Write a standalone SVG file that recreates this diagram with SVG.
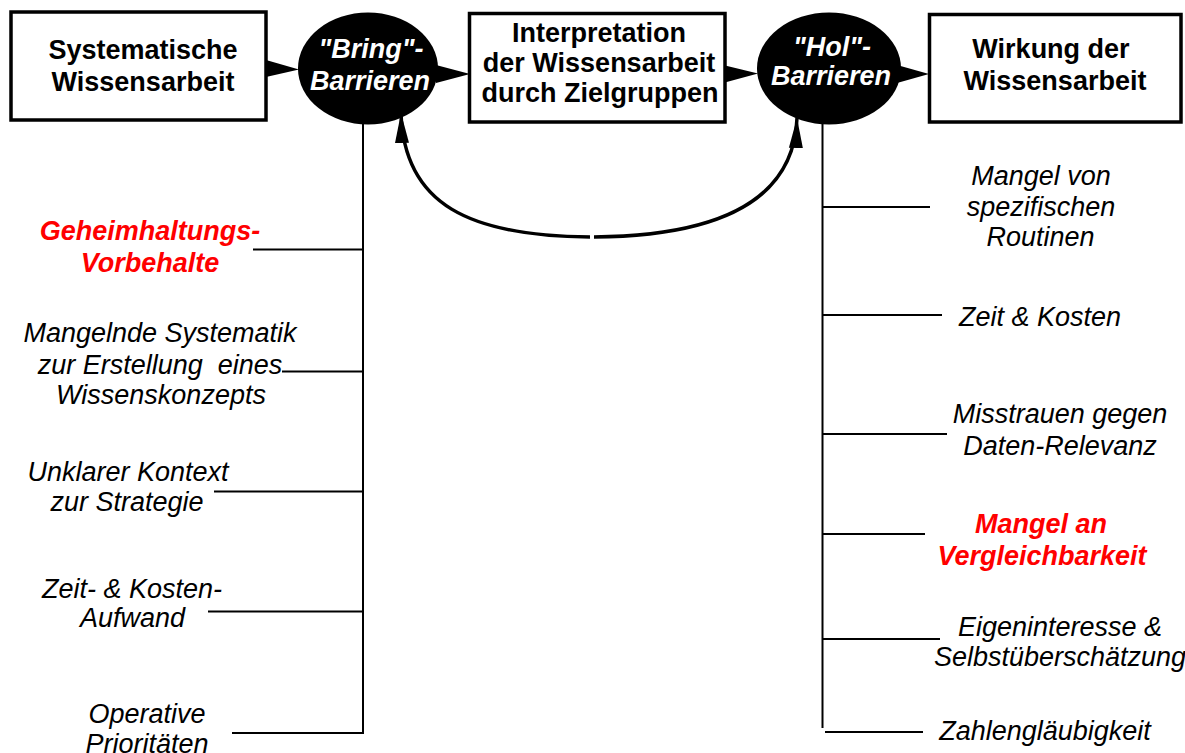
<svg xmlns="http://www.w3.org/2000/svg" width="1185" height="753" viewBox="0 0 1185 753">
<style>
.box{fill:#fff;stroke:#000;stroke-width:3.5}
.oval{fill:#000}
.bt{font-family:"Liberation Sans",Arial,sans-serif;font-weight:bold;font-size:27px;fill:#000;text-anchor:middle}
.ot{font-family:"Liberation Sans",Arial,sans-serif;font-weight:bold;font-style:italic;font-size:27px;fill:#fff;text-anchor:middle}
.lt{font-family:"Liberation Sans",Arial,sans-serif;font-style:italic;font-size:27px;fill:#000;text-anchor:middle}
.rt{font-family:"Liberation Sans",Arial,sans-serif;font-style:italic;font-weight:bold;font-size:27px;fill:#ff0000;text-anchor:middle}
.ln{stroke:#000;stroke-width:2;fill:none}
.cv{stroke:#000;stroke-width:3.5;fill:none;marker-end:url(#ah)}
.wd{fill:#000}
</style>
<defs>
<marker id="ah" markerUnits="userSpaceOnUse" markerWidth="32" markerHeight="18" refX="30" refY="9" orient="auto">
<path d="M0,2 L30,9 L0,16 z" fill="#000"/>
</marker>
</defs>
<g id="connectors">
<polygon class="wd" points="266,60 299,69.5 266,77"/>
<polygon class="wd" points="436,65 470,74 436,83"/>
<polygon class="wd" points="723,65 758,73.5 723,83"/>
<polygon class="wd" points="897,65 929,74 897,83"/>
<path class="cv" d="M590,237 C470,236 404,205 401,113"/>
<path class="cv" d="M594,237 C720,236 794,200 797,118"/>
<line class="ln" x1="363" y1="120" x2="363" y2="734"/>
<line class="ln" x1="253" y1="249.5" x2="364" y2="249.5"/>
<line class="ln" x1="282" y1="371.5" x2="364" y2="371.5"/>
<line class="ln" x1="214" y1="491.5" x2="364" y2="491.5"/>
<line class="ln" x1="208" y1="611.5" x2="364" y2="611.5"/>
<line class="ln" x1="232" y1="733" x2="364" y2="733"/>
<line class="ln" x1="822.5" y1="120" x2="822.5" y2="728"/>
<line class="ln" x1="822" y1="207" x2="930" y2="207"/>
<line class="ln" x1="822" y1="315" x2="942" y2="315"/>
<line class="ln" x1="822" y1="434" x2="947" y2="434"/>
<line class="ln" x1="822" y1="534" x2="925" y2="534"/>
<line class="ln" x1="822" y1="639" x2="940" y2="639"/>
<line class="ln" x1="825" y1="732" x2="923" y2="732"/>
</g>
<g id="n-systematische">
<rect class="box" x="11" y="12" width="255" height="108"/>
<text class="bt" x="143" y="59">Systematische</text>
<text class="bt" x="143" y="91">Wissensarbeit</text>
</g>
<g id="n-bring">
<ellipse class="oval" cx="368" cy="68.5" rx="70" ry="56"/>
<text class="ot" x="371" y="58">"Bring"-</text>
<text class="ot" x="370" y="90">Barrieren</text>
</g>
<g id="n-interpretation">
<rect class="box" x="469.5" y="13.5" width="255.5" height="108.5"/>
<text class="bt" x="599" y="42">Interpretation</text>
<text class="bt" x="599" y="72">der Wissensarbeit</text>
<text class="bt" x="600" y="101.5">durch Zielgruppen</text>
</g>
<g id="n-hol">
<ellipse class="oval" cx="829" cy="68.5" rx="72" ry="56"/>
<text class="ot" x="832" y="56">"Hol"-</text>
<text class="ot" x="831" y="85">Barrieren</text>
</g>
<g id="n-wirkung">
<rect class="box" x="929.5" y="14.5" width="251.5" height="107.5"/>
<text class="bt" x="1051" y="58">Wirkung der</text>
<text class="bt" x="1055" y="90">Wissensarbeit</text>
</g>
<g id="l-geheimhaltung">
<text class="rt" x="150" y="240">Geheimhaltungs-</text>
<text class="rt" x="150" y="272">Vorbehalte</text>
</g>
<g id="l-systematik">
<text class="lt" x="160" y="342">Mangelnde Systematik</text>
<text class="lt" x="160" y="374" xml:space="preserve">zur Erstellung  eines</text>
<text class="lt" x="161" y="404">Wissenskonzepts</text>
</g>
<g id="l-kontext">
<text class="lt" x="128" y="481">Unklarer Kontext</text>
<text class="lt" x="127" y="511">zur Strategie</text>
</g>
<g id="l-aufwand">
<text class="lt" x="132" y="598">Zeit- &amp; Kosten-</text>
<text class="lt" x="132.5" y="627">Aufwand</text>
</g>
<g id="l-prioritaeten">
<text class="lt" x="147" y="723">Operative</text>
<text class="lt" x="147" y="753">Prioritäten</text>
</g>
<g id="r-routinen">
<text class="lt" x="1041" y="185">Mangel von</text>
<text class="lt" x="1041" y="216">spezifischen</text>
<text class="lt" x="1040.5" y="246">Routinen</text>
</g>
<g id="r-zeit">
<text class="lt" x="1040" y="326">Zeit &amp; Kosten</text>
</g>
<g id="r-misstrauen">
<text class="lt" x="1060" y="423">Misstrauen gegen</text>
<text class="lt" x="1060" y="455">Daten-Relevanz</text>
</g>
<g id="r-vergleich">
<text class="rt" x="1041" y="533">Mangel an</text>
<text class="rt" x="1042" y="565">Vergleichbarkeit</text>
</g>
<g id="r-eigen">
<text class="lt" x="1060" y="636">Eigeninteresse &amp;</text>
<text class="lt" x="1060" y="666">Selbstüberschätzung</text>
</g>
<g id="r-zahlen">
<text class="lt" x="1045" y="740">Zahlengläubigkeit</text>
</g>
</svg>
